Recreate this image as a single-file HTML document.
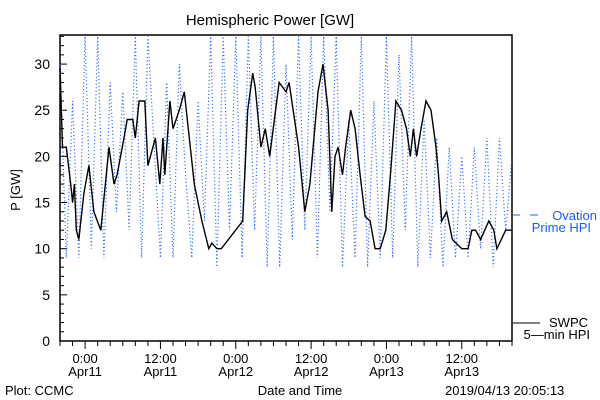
<!DOCTYPE html>
<html><head><meta charset="utf-8"><style>
body{margin:0;background:#fff;}
svg{display:block;font-family:"Liberation Sans",sans-serif;}
</style></head><body>
<svg id="chart" width="600" height="400" viewBox="0 0 600 400">
<rect width="600" height="400" fill="#fff"/>
<text x="270" y="25" font-size="15" text-anchor="middle">Hemispheric Power [GW]</text>
<text transform="translate(20,190) rotate(-90)" font-size="13" text-anchor="middle">P [GW]</text>
<text x="300" y="395" font-size="13" text-anchor="middle">Date and Time</text>
<text x="5" y="395" font-size="13">Plot: CCMC</text>
<text x="445" y="395" font-size="13">2019/04/13 20:05:13</text>
<g id="axes"></g>
<g id="series"></g>
<g>
<line x1="513" y1="215" x2="520" y2="215" stroke="#1a5cff" stroke-width="1"/>
<line x1="530" y1="215" x2="538" y2="215" stroke="#1a5cff" stroke-width="1"/>
<text x="597" y="220" font-size="13" fill="#1a5cff" text-anchor="end">Ovation</text>
<text x="591" y="232" font-size="13" fill="#1a5cff" text-anchor="end">Prime HPI</text>
</g>
<g>
<line x1="513" y1="323" x2="540" y2="323" stroke="#000" stroke-width="1"/>
<text x="588" y="327" font-size="13" text-anchor="end">SWPC</text>
<text x="590" y="339" font-size="13" text-anchor="end">5—min HPI</text>
</g>
</svg>
<script>
// hours relative to 2019-04-11 00:00
const blackTimes=[-4,-3.6,-3,-2.3,-2.0,-1.7,-1.4,-1,-0.2,0.6,1.4,2.5,3.8,4.6,5.1,6.2,6.7,7.6,8.0,8.6,9.5,10,11.2,11.9,12.4,12.7,13.5,14.0,15.0,15.8,16.6,17.4,18.6,19.7,20.2,21.0,21.2,21.7,25.1,25.5,25.9,26.7,27.1,28.0,28.7,29.4,30.9,32.0,32.5,34.0,35.0,35.8,37.1,37.9,38.7,39.3,39.8,40.3,41.0,41.5,42.3,43.0,43.8,44.6,45.4,46.2,47.0,47.9,48.7,49.5,50.4,51.2,51.8,52.3,52.8,53.5,54.3,55.1,55.9,56.3,56.8,57.6,58.5,60.0,61.0,61.6,62.2,63.0,64.3,65.1,65.6,67.0,68];
const blackValues=[29.6,21,21,17,15,17,12,11,16,19,14,12,21,17,18,22,24,24,22,26,26,19,22,17,22,18,26,23,25,27,22,17,13,10,10.6,10,10,10,13,19,25,29,27.5,21,23,20,28,27,28,21,14,17,27,30,25,14,20,21,18,21,25,23,18,13.5,13,10,10,12,18.5,26,25,23,20,23,20,23,26,25,21,18,13,14,11,10,10,12,12,11,13,12,10,12,12];
const blueTimes=[-4,-3,-2,-1,0,1,2,3,4,5,6,7,8,9,10,11,12,13,14,15,16,17,18,19,20,21,22,23,24,25,26,27,28,29,30,31,32,33,34,35,36,37,38,39,40,41,42,43,44,45,46,47,48,49,50,51,52,53,54,55,56,57,58,59,60,61,62,63,64,65,66,67,68];
const blueValues=[30,9,26,9,33,10,33,9,28,14,27,12,33,9,33,21,9,28,9,30,18,9,26,13,33,8,33,12,33,9,33,12,33,8,33,8,30,11,33,12,33,9,33,14,33,8,24,9,33,8,26,9,33,9,31,12,33,8,24,9,22,8,21,9,20,9,21,10,22,8,22,12,20];
const yTicks=[0,5,10,15,20,25,30];
const xTickHours=[0,12,24,36,48,60];
const xTickTimes=["0:00","12:00","0:00","12:00","0:00","12:00"];
const xTickDates=["Apr11","Apr11","Apr12","Apr12","Apr13","Apr13"];

const NS="http://www.w3.org/2000/svg";
const L=60,R=512,T=35,B=341,H0=-4,H1=68,YMAX=33.15;
function xs(h){return L+(h-H0)/(H1-H0)*(R-L);}
function ys(v){return B-v/YMAX*(B-T);}
function mk(tag,attrs,parent){const e=document.createElementNS(NS,tag);for(const k in attrs)e.setAttribute(k,attrs[k]);parent.appendChild(e);return e;}
const axes=document.getElementById('axes'),series=document.getElementById('series');

let pb="";
for(let i=0;i<blueTimes.length;i++)pb+=(i?"L":"M")+xs(blueTimes[i]).toFixed(1)+","+ys(blueValues[i]).toFixed(1);
const blue=mk('path',{d:pb,fill:"none",stroke:"#1a5cff","stroke-width":1.2,"stroke-dasharray":"1 2.5"},series);


let pk="";
for(let i=0;i<blackTimes.length;i++){
  pk+=(i?"L":"M")+xs(blackTimes[i]).toFixed(1)+","+ys(blackValues[i]).toFixed(1);
}
const blk=mk('path',{d:pk,fill:"none",stroke:"#000","stroke-width":1.4},series);



const fr=mk('rect',{x:L,y:T,width:R-L,height:B-T,fill:"none",stroke:"#000","stroke-width":1.5},axes);


for(let v=0;v<=33;v++){
  const t=mk('line',{x1:L,x2:L+(v%5===0?7:4),y1:ys(v),y2:ys(v),stroke:"#000","stroke-width":1},axes);
  
  
}
yTicks.forEach(v=>{
  const t=mk('text',{x:L-10,y:ys(v)+5,"font-size":14,"text-anchor":"end"},axes);
  t.textContent=v;
  
  
});
for(let h=H0;h<=H1;h+=2){
  const major=(h%12===0);
  const t=mk('line',{x1:xs(h),x2:xs(h),y1:B,y2:B+(major?8:5),stroke:"#000","stroke-width":1},axes);
  
  
}
xTickHours.forEach((h,i)=>{
  const a=mk('text',{x:xs(h),y:B+22,"font-size":13,"text-anchor":"middle"},axes);
  a.textContent=xTickTimes[i];
  
  
  const b=mk('text',{x:xs(h),y:B+35,"font-size":13,"text-anchor":"middle"},axes);
  b.textContent=xTickDates[i];
  
  
});
</script>
</body></html>
